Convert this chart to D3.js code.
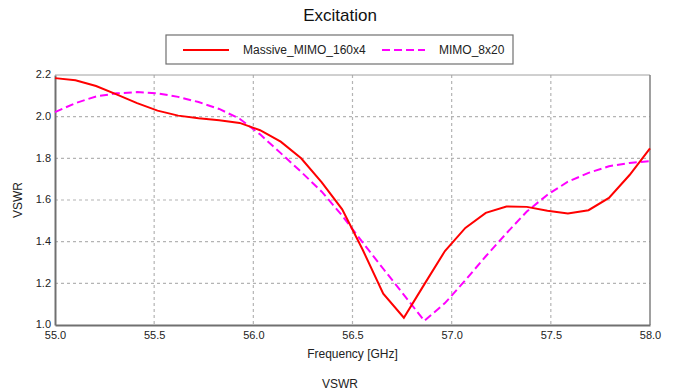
<!DOCTYPE html>
<html>
<head>
<meta charset="utf-8">
<script src="https://cdn.jsdelivr.net/npm/d3@7"></script>
<style>
  body { margin: 0; background: #fff; }
  svg { display: block; font-family: "Liberation Sans", Arial, sans-serif; }
</style>
</head>
<body>
<div id="chart"></div>
<script>
// sweep frequencies [GHz]
const freq = [55.000, 55.103, 55.207, 55.310, 55.414, 55.517, 55.621, 55.724, 55.828, 55.931,
  56.034, 56.138, 56.241, 56.345, 56.448, 56.552, 56.655, 56.759, 56.862, 56.966,
  57.069, 57.172, 57.276, 57.379, 57.483, 57.586, 57.690, 57.793, 57.897, 58.000];

const massiveMimo = [2.185, 2.175, 2.147, 2.107, 2.065, 2.029, 2.005, 1.992, 1.983, 1.970,
  1.935, 1.880, 1.800, 1.685, 1.555, 1.360, 1.150, 1.035, 1.195, 1.355,
  1.466, 1.538, 1.569, 1.567, 1.548, 1.535, 1.551, 1.610, 1.720, 1.848];

const mimo8x20 = [2.022, 2.065, 2.097, 2.112, 2.118, 2.112, 2.095, 2.070, 2.037, 1.990,
  1.915, 1.825, 1.735, 1.640, 1.525, 1.395, 1.270, 1.145, 1.020, 1.105,
  1.215, 1.330, 1.440, 1.545, 1.625, 1.688, 1.730, 1.762, 1.778, 1.787];

const xTicks = [55.0, 55.5, 56.0, 56.5, 57.0, 57.5, 58.0];
const yTicks = [1.0, 1.2, 1.4, 1.6, 1.8, 2.0, 2.2];

const seriesNames = ['Massive_MIMO_160x4', 'MIMO_8x20'];

const width = 673;
const height = 391;
const margin = { top: 75, right: 23, bottom: 66, left: 55 };
const plotW = width - margin.left - margin.right;
const plotH = height - margin.top - margin.bottom;

const svg = d3.select('#chart')
  .append('svg')
  .attr('width', width)
  .attr('height', height);

let x = d3.scaleLinear().domain([55, 58]).range([0, plotW]);
let y = d3.scaleLinear().domain([1.0, 2.2]).range([plotH, 0]);

const g = svg.append('g')
  .attr('transform', 'translate(' + margin.left + ',' + margin.top + ')');

// grid
g.selectAll('.vgrid')
  .data(xTicks.slice(1, -1))
  .enter()
  .append('line')
  .attr('x1', d => x(d)).attr('x2', d => x(d))
  .attr('y1', 0).attr('y2', plotH)
  .attr('stroke', '#b4b4b4')
  .attr('stroke-width', 1.2)
  .attr('stroke-dasharray', '3,3');

g.selectAll('.hgrid')
  .data(yTicks.slice(1, -1))
  .enter()
  .append('line')
  .attr('x1', 0).attr('x2', plotW)
  .attr('y1', d => y(d)).attr('y2', d => y(d))
  .attr('stroke', '#b4b4b4')
  .attr('stroke-width', 1.2)
  .attr('stroke-dasharray', '3,3');

// frame
g.append('line').attr('x1', 0).attr('x2', plotW).attr('y1', 0).attr('y2', 0)
  .attr('stroke', '#a0a0a0').attr('stroke-width', 1);
g.append('line').attr('x1', plotW).attr('x2', plotW).attr('y1', 0).attr('y2', plotH)
  .attr('stroke', '#808080').attr('stroke-width', 1.5);

// axes
let xAxis = d3.axisBottom(x).tickValues(xTicks).tickFormat(d3.format('.1f')).tickSize(0).tickPadding(6);
let yAxis = d3.axisLeft(y).tickValues(yTicks).tickFormat(d3.format('.1f')).tickSize(0).tickPadding(4);

const gx = g.append('g')
  .attr('transform', 'translate(0,' + plotH + ')')
  .call(xAxis);
const gy = g.append('g').call(yAxis);

[gx, gy].forEach(function (ax) {
  ax.select('.domain').attr('stroke', '#707070').attr('stroke-width', 2);
  ax.selectAll('text')
    .attr('fill', '#222')
    .style('font-size', '11px')
    .style('font-family', '"Liberation Sans", Arial, sans-serif');
});
// lift the y labels a touch so "1.0" clears "55.0"
gy.selectAll('text').attr('dy', '0.25em');

// lines
let line = d3.line()
  .x(function (d, i) { return x(freq[i]); })
  .y(function (d) { return y(d); });

g.append('path')
  .datum(mimo8x20)
  .attr('d', line)
  .attr('fill', 'none')
  .attr('stroke', '#ff00ff')
  .attr('stroke-width', 2)
  .attr('stroke-dasharray', '8,4');

g.append('path')
  .datum(massiveMimo)
  .attr('d', line)
  .attr('fill', 'none')
  .attr('stroke', '#ff0000')
  .attr('stroke-width', 2);

// titles
svg.append('text')
  .attr('x', 340).attr('y', 21)
  .attr('text-anchor', 'middle')
  .style('font-size', '17px')
  .attr('fill', '#111')
  .text('Excitation');

svg.append('text')
  .attr('x', margin.left + plotW / 2).attr('y', 358)
  .attr('text-anchor', 'middle')
  .style('font-size', '12px')
  .attr('fill', '#222')
  .text('Frequency [GHz]');

svg.append('text')
  .attr('transform', 'translate(22,' + (margin.top + plotH / 2) + ') rotate(-90)')
  .attr('text-anchor', 'middle')
  .style('font-size', '12px')
  .attr('fill', '#222')
  .text('VSWR');

svg.append('text')
  .attr('x', 340).attr('y', 388)
  .attr('text-anchor', 'middle')
  .style('font-size', '12px')
  .attr('fill', '#222')
  .text('VSWR');

// legend
const legend = svg.append('g').attr('transform', 'translate(166,35)');
legend.append('rect')
  .attr('x', 0).attr('y', 0)
  .attr('width', 347).attr('height', 29)
  .attr('fill', '#fff')
  .attr('stroke', '#707070')
  .attr('stroke-width', 1.2);

const legendItems = [
  { name: seriesNames[0], color: '#ff0000', dash: null, x0: 17, x1: 63, tx: 77 },
  { name: seriesNames[1], color: '#ff00ff', dash: '8,4', x0: 216, x1: 259, tx: 273 }
];

legendItems.forEach(function (d) {
  legend.append('line')
    .attr('x1', d.x0).attr('x2', d.x1)
    .attr('y1', 15).attr('y2', 15)
    .attr('stroke', d.color)
    .attr('stroke-width', 2)
    .attr('stroke-dasharray', d.dash);
  legend.append('text')
    .attr('x', d.tx).attr('y', 19)
    .style('font-size', '12px')
    .attr('fill', '#222')
    .text(d.name);
});
</script>
</body>
</html>
